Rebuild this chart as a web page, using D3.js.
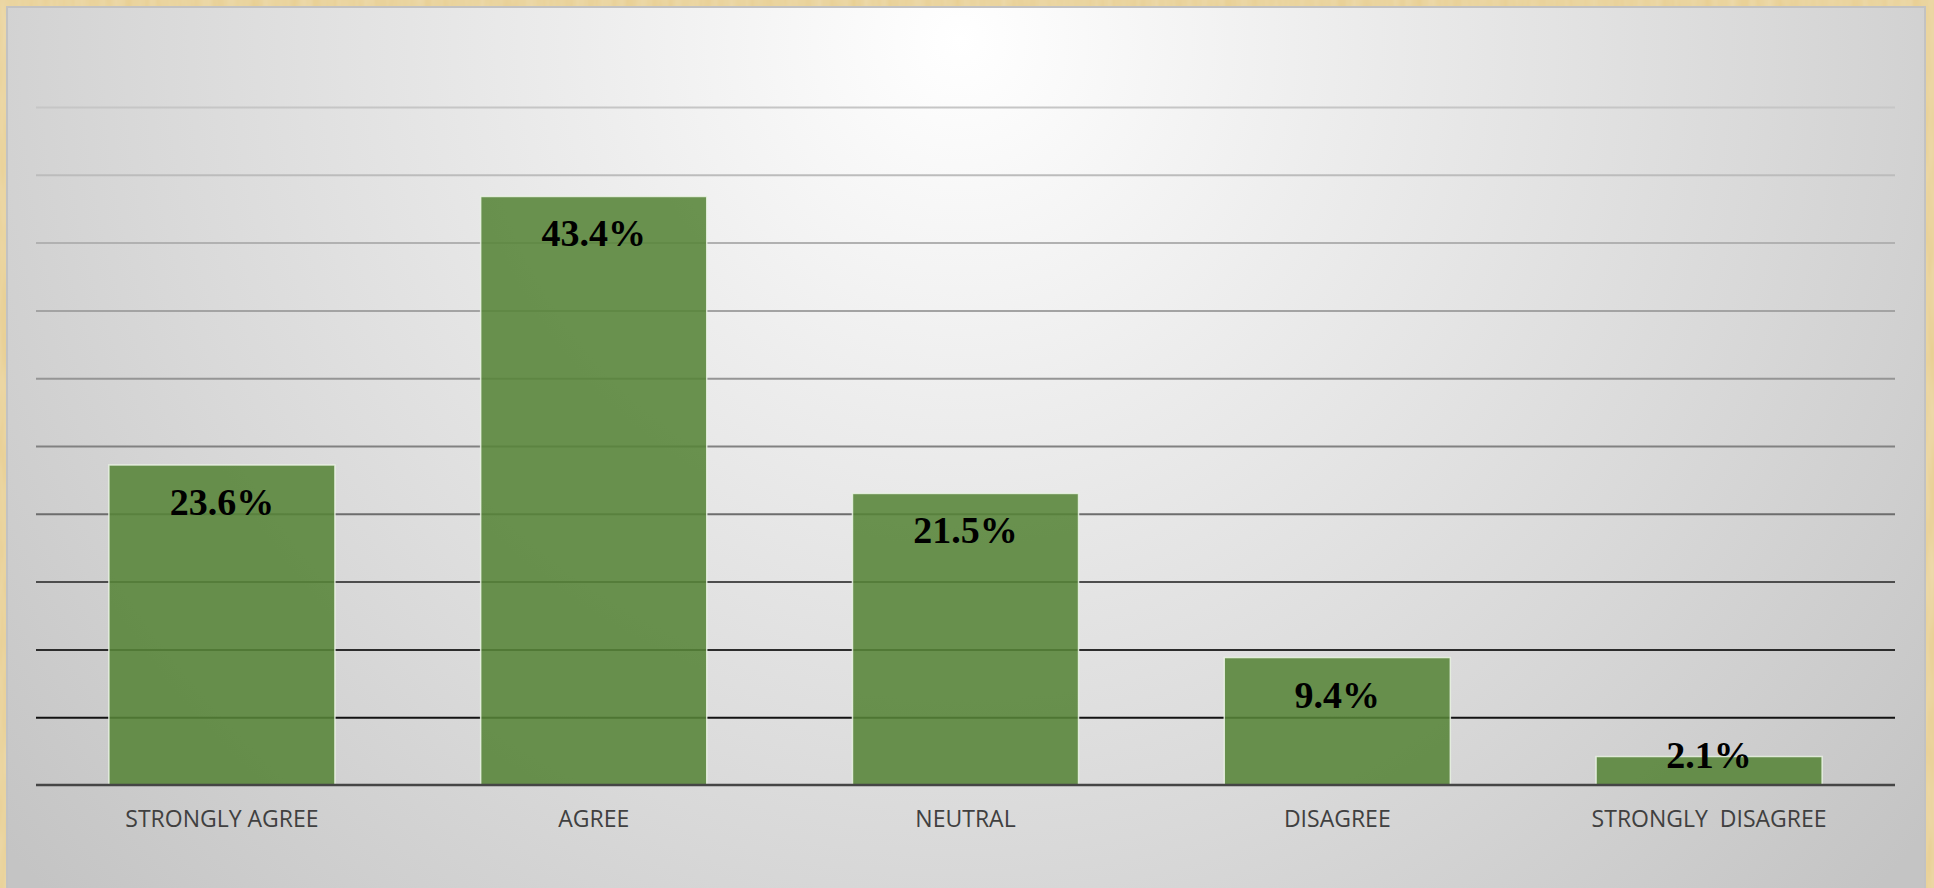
<!DOCTYPE html>
<html>
<head>
<meta charset="utf-8">
<script src="https://cdn.jsdelivr.net/npm/d3@7"></script>
<style>
  html, body { margin: 0; padding: 0; background: #e6cc8e; overflow: hidden; }
  svg { display: block; }
</style>
</head>
<body>
<svg id="chart" width="1934" height="888"></svg>
<script>
// Survey responses, share of respondents (%)
const categories = ["STRONGLY AGREE", "AGREE", "NEUTRAL", "DISAGREE", "STRONGLY  DISAGREE"];
const values = [23.6, 43.4, 21.5, 9.4, 2.1];
const valueLabels = ["23.6%", "43.4%", "21.5%", "9.4%", "2.1%"];
const gridTicks = [0, 5, 10, 15, 20, 25, 30, 35, 40, 45, 50];

const W = 1934, H = 888;
const svg = d3.select("#chart");
const defs = svg.append("defs");

// wooden frame grain
const grain = defs.append("filter").attr("id", "grain")
  .attr("x", 0).attr("y", 0).attr("width", 1).attr("height", 1);
grain.append("feTurbulence").attr("type", "fractalNoise")
  .attr("baseFrequency", "0.08 0.012").attr("numOctaves", 3).attr("seed", 4).attr("result", "n");
grain.append("feColorMatrix").attr("in", "n").attr("type", "matrix")
  .attr("values", "0 0 0 0 0.86  0 0 0 0 0.74  0 0 0 0 0.47  0 0 0 -0.9 0.75").attr("result", "c");
grain.append("feComposite").attr("in", "c").attr("in2", "SourceGraphic").attr("operator", "over");

// panel shading: bright near the top centre, greyer toward the corners
const rg = defs.append("radialGradient").attr("id", "panelFill")
  .attr("gradientUnits", "userSpaceOnUse")
  .attr("cx", 960).attr("cy", 40).attr("r", 1250);
rg.append("stop").attr("offset", "0").attr("stop-color", "#ffffff");
rg.append("stop").attr("offset", "0.3").attr("stop-color", "#ededed");
rg.append("stop").attr("offset", "0.65").attr("stop-color", "#d9d9d9");
rg.append("stop").attr("offset", "1").attr("stop-color", "#c4c4c4");

svg.append("rect").attr("width", W).attr("height", H).attr("fill", "#e8cf93").attr("filter", "url(#grain)");

svg.append("rect")
  .attr("x", 7).attr("y", 7).attr("width", 1918).attr("height", H + 10)
  .attr("fill", "url(#panelFill)")
  .attr("stroke", "#c2c2c2").attr("stroke-width", 2);

const plot = { left: 36, right: 1895, top: 107, bottom: 785 };

const x = d3.scaleBand()
  .domain(categories)
  .range([plot.left, plot.right])
  .paddingInner(0.392)
  .paddingOuter(0.196);

const y = d3.scaleLinear()
  .domain([0, 50])
  .range([plot.bottom, plot.top]);

// horizontal gridlines, darkening toward the bottom
const gridColor = d3.scaleLinear()
  .domain([5, 10, 20, 30, 40, 50])
  .range(["#121212", "#2c2c2c", "#6d6d6d", "#959595", "#b1b1b1", "#c6c6c6"]);

const grid = svg.append("g")
  .attr("transform", `translate(${plot.left},0)`)
  .call(d3.axisLeft(y).tickValues(gridTicks.filter(t => t > 0))
    .tickSize(-(plot.right - plot.left)).tickFormat(""));
grid.select(".domain").remove();
grid.selectAll(".tick line")
  .attr("stroke", d => gridColor(d))
  .attr("stroke-width", 2);

// bars
svg.append("g").selectAll("rect")
  .data(values)
  .join("rect")
  .attr("x", (d, i) => x(categories[i]))
  .attr("y", d => y(d))
  .attr("width", x.bandwidth())
  .attr("height", d => y(0) - y(d))
  .attr("fill", "rgb(86,132,56)")
  .attr("fill-opacity", 0.88)
  .attr("stroke", "rgba(236,244,230,0.85)")
  .attr("stroke-width", 1.5);

// baseline
svg.append("line")
  .attr("x1", plot.left).attr("x2", plot.right)
  .attr("y1", y(0)).attr("y2", y(0))
  .attr("stroke", "#454545").attr("stroke-width", 2.5);

// value labels just inside the bar tops
svg.append("g").selectAll("text")
  .data(values)
  .join("text")
  .attr("x", (d, i) => x(categories[i]) + x.bandwidth() / 2)
  .attr("y", d => Math.min(y(d) + 50, y(0) - 17))
  .attr("text-anchor", "middle")
  .attr("font-family", "'Liberation Serif', 'Times New Roman', serif")
  .attr("font-weight", "bold")
  .attr("font-size", 38)
  .attr("fill", "#000")
  .text((d, i) => valueLabels[i]);

// category axis
const xAxis = svg.append("g")
  .attr("transform", `translate(0,${plot.bottom})`)
  .call(d3.axisBottom(x).tickSize(0).tickPadding(0));
xAxis.select(".domain").remove();
xAxis.selectAll(".tick text")
  .attr("dy", null)
  .attr("y", 42)
  .style("white-space", "pre")
  .attr("font-family", "'Open Sans', 'Noto Sans', sans-serif")
  .attr("font-size", 23)
  .attr("fill", "#404040");
</script>
</body>
</html>
